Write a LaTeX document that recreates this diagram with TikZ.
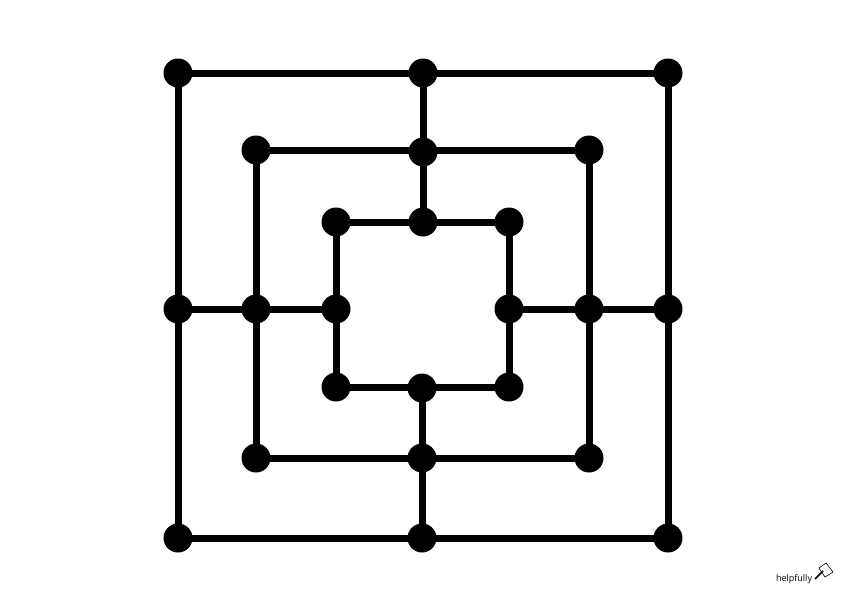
\documentclass[tikz,border=0pt]{standalone}
\usepackage{fontspec}
\newfontfamily\logofont{Open Sans}
\tikzset{
  pt/.style={circle,fill=black,inner sep=0pt,minimum size=29pt},
  edge/.style={line width=7pt,black},
}
\begin{document}
\begin{tikzpicture}[x=1pt,y=-1pt]
\useasboundingbox (0,0) rectangle (850,600);
% outer
\node[pt] (a1) at (178,73) {};
\node[pt] (a2) at (423,73) {};
\node[pt] (a3) at (668,73) {};
\node[pt] (a4) at (668,309) {};
\node[pt] (a5) at (668,538) {};
\node[pt] (a6) at (422,538) {};
\node[pt] (a7) at (178,538) {};
\node[pt] (a8) at (178,309) {};
% middle
\node[pt] (b1) at (256,150) {};
\node[pt] (b2) at (423,152) {};
\node[pt] (b3) at (589,150) {};
\node[pt] (b4) at (589,309) {};
\node[pt] (b5) at (589,458) {};
\node[pt] (b6) at (422,458) {};
\node[pt] (b7) at (256,458) {};
\node[pt] (b8) at (256,309) {};
% inner
\node[pt] (c1) at (336,222) {};
\node[pt] (c2) at (423,222) {};
\node[pt] (c3) at (509,222) {};
\node[pt] (c4) at (509,309) {};
\node[pt] (c5) at (509,387) {};
\node[pt] (c6) at (422,388) {};
\node[pt] (c7) at (336,387) {};
\node[pt] (c8) at (336,309) {};
% squares
\draw[edge] (a1.center) -- (a3.center) -- (a5.center) -- (a7.center) -- cycle;
\draw[edge] (b1.center) -- (b3.center) -- (b5.center) -- (b7.center) -- cycle;
\draw[edge] (c1.center) -- (c3.center) -- (c5.center) -- (c7.center) -- cycle;
% cross lines
\draw[edge] (a2.center) -- (b2.center) -- (c2.center);
\draw[edge] (a4.center) -- (b4.center) -- (c4.center);
\draw[edge] (a6.center) -- (b6.center) -- (c6.center);
\draw[edge] (a8.center) -- (b8.center) -- (c8.center);
% logo
\node[font=\logofont\fontsize{9}{10}\selectfont,inner sep=0pt] (logo) at (794,579) {helpfully};
\draw[line width=0.6pt] (819,568) -- (826,563) -- (833,572) -- (825,577) -- cycle;
\draw[line width=1.6pt] (815,579) -- (823,571);
\end{tikzpicture}
\end{document}
